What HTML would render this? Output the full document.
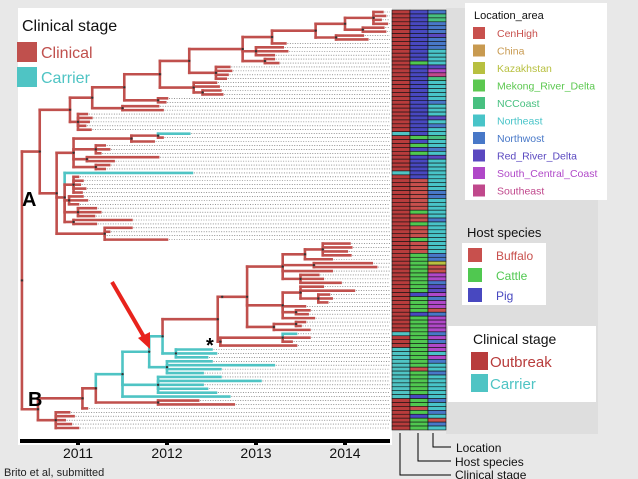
<!DOCTYPE html>
<html><head><meta charset="utf-8"><style>
body{margin:0;background:#e8e8e8;}
svg{display:block;font-family:"Liberation Sans",sans-serif;}
</style></head><body>
<svg id="c" width="638" height="479" viewBox="0 0 638 479">
<rect x="0" y="0" width="638" height="479" fill="#e8e8e8"/>
<rect x="18" y="8" width="374" height="437" fill="#fff"/>
<rect x="446" y="8" width="152" height="426" fill="#dedede"/>
<g id="tree"></g>
<g id="heat"></g>
<g id="axis"></g>
<text x="22" y="31" font-size="16" fill="#111">Clinical stage</text>
<rect x="17" y="42" width="20" height="20" fill="#c0504d"/>
<text x="41" y="58" font-size="16" fill="#c0504d">Clinical</text>
<rect x="17" y="67" width="20" height="20" fill="#4fc4c4"/>
<text x="41" y="83" font-size="16" fill="#4fc4c4">Carrier</text>
<text x="22" y="206" font-size="20" font-weight="bold" fill="#000">A</text>
<text x="28" y="406" font-size="20" font-weight="bold" fill="#000">B</text>
<text x="206" y="352" font-size="20" font-weight="bold" fill="#000">*</text>
<g>
<line x1="112" y1="282" x2="144" y2="337" stroke="#e8231c" stroke-width="4"/>
<polygon points="150,349 138,338 150,332" fill="#e8231c"/>
</g>
<rect x="465" y="3" width="142" height="197" fill="#fff"/>
<text x="474" y="19" font-size="11" fill="#111">Location_area</text>
<g id="locleg"></g>
<text x="467" y="237" font-size="13" fill="#111">Host species</text>
<rect x="462" y="243" width="84" height="62" fill="#fff"/>
<g id="hostleg"></g>
<rect x="448" y="326" width="148" height="76" fill="#fff"/>
<text x="473" y="344" font-size="14" fill="#111">Clinical stage</text>
<rect x="471" y="352" width="17" height="18" fill="#b83c3c"/>
<text x="490" y="367" font-size="15" fill="#b83c3c">Outbreak</text>
<rect x="471" y="374" width="17" height="18" fill="#4fc4c4"/>
<text x="490" y="389" font-size="15" fill="#4fc4c4">Carrier</text>
<g stroke="#000" stroke-width="1" fill="none">
<polyline points="433,433 433,447 451,447"/>
<polyline points="418,433 418,461 451,461"/>
<polyline points="400,433 400,475 451,475"/>
</g>
<text x="456" y="452" font-size="12" fill="#111">Location</text>
<text x="455" y="466" font-size="12" fill="#111">Host species</text>
<text x="455" y="479" font-size="12" fill="#111">Clinical stage</text>
<text x="4" y="476" font-size="11" fill="#222">Brito et al, submitted</text>
</svg>
<script>
const years = [2011, 2012, 2013, 2014];
const locNames = ["CenHigh","China","Kazakhstan","Mekong_River_Delta","NCCoast","Northeast","Northwost","Red_River_Delta","South_Central_Coast","Southeast"];
const locCodes = ["R","C","K","G","N","T","W","D","S","H"];
const locColors = ["#c8504d","#c89a50","#b8c040","#5cc850","#48c080","#48c4c8","#4878c8","#5a48c0","#b048c8","#c0488c"];
const hostNames = ["Buffalo","Cattle","Pig"];
const hostCodes = ["R","G","P"];
const hostColors = ["#c8504d","#50c850","#4848c0"];
const hostSeq = "PPPPPPPPPPPPPGPPPPPPPPPPPPPPPPPPGPGPGPPPPPPRRRRRRRRGRRGRRRGRRRGGGGGGGGGGPGGGGPGGGGGGGGGGGGGRGGGGGGPGGRGPGGG";
const locSeq  = "WNNWWWDWWWTTTTDSHNTTTTTWTTTDTWTTNTTWTDTTTTTTTTWWTTTTTWTTTTTTTTWWKRRSSWDDSWSSRWSSSSWSWSSTSWTTWTTTTTTWTTWTRWT";

function N(t, ...k){return {t, k, c:'r'};}
function NC(t, ...k){return {t, k, c:'c'};}
function L(t, c){return {t, c:c||'r'};}
function LC(t){return {t, c:'c'};}

const top8 = N(2014.0, N(2014.32, L(2014.42), L(2014.45), L(2014.4), L(2014.47)), N(2014.2, L(2014.43), L(2014.45)));
let s = N(2013.67, top8, N(2013.9, L(2014.2), L(2014.25)));
s = N(2013.18, s, L(2013.33));
s = N(2012.85, s, N(2013.0, L(2013.3), L(2013.35), L(2013.2)), N(2013.1, L(2013.2), L(2013.25)));
s = N(2012.25, s, N(2012.55, L(2012.7), L(2012.72), L(2012.68), L(2012.66)));
s = N(2011.92, s, N(2012.3, L(2012.55), L(2012.58), N(2012.4, L(2012.6), L(2012.62))));
s = N(2011.52, s, N(2011.9, L(2012.0), L(2011.98)));
s = N(2011.16, s, N(2011.5, L(2011.9), L(2011.95)));
const Atop = N(2010.91, s, N(2011.0, L(2011.1), L(2011.15), L(2011.12), L(2011.08), L(2011.14)));
const Alow = N(2010.76,
  N(2010.95, N(2011.6, N(2011.9, L(2012.25,'c'), L(2011.95)), L(2011.85)), N(2011.2, L(2011.3), L(2011.35), L(2011.25)), N(2011.1, L(2011.9), L(2011.4)), N(2011.2, L(2011.35), L(2011.3))),
  N(2010.85, L(2012.28,'c'), N(2010.95, L(2011.0), L(2011.05), L(2011.02), L(2011.08), L(2011.04)), N(2010.9, L(2011.05), L(2011.1), L(2011.0)), N(2011.0, L(2011.2), L(2011.25), L(2011.18)), N(2010.95, L(2011.6), L(2011.2))),
  N(2011.3, L(2011.6), L(2011.35), L(2011.3), L(2012.0)));
const A = N(2010.57, Atop, Alow);
const U = N(2012.9,
  N(2013.3, N(2013.55, N(2013.75, L(2014.05), L(2014.07), L(2014.02), L(2014.06)), L(2013.85)), N(2013.65, L(2014.3), L(2014.35)), L(2013.85), N(2013.5, L(2013.7), L(2013.75), L(2013.95))),
  N(2013.3, N(2013.5, L(2013.75), L(2014.1), N(2013.7, L(2013.82), L(2013.85), L(2013.8))), L(2013.55), N(2013.45, L(2013.6), L(2013.58)), L(2013.65)),
  N(2013.2, N(2013.45, L(2013.55), L(2013.5)), L(2013.6)));
const Star = N(2012.57, N(2012.62, U), N(2012.6, N(2013.3, L(2013.45,'c'), L(2013.6), L(2013.4)), L(2013.45)));
const T = NC(2011.5,
  NC(2011.8, NC(2011.95, Star, NC(2012.1, LC(2012.5), LC(2012.55), LC(2012.45))), NC(2012.0, LC(2012.5), LC(2013.2), LC(2012.6), LC(2012.4))),
  NC(2011.9, LC(2012.6), LC(2013.05), LC(2012.4), LC(2012.45), LC(2012.55)),
  LC(2012.7));
let b = N(2011.2, T, N(2011.9, L(2012.35), L(2012.75)));
b = N(2011.05, b, L(2011.1));
const B = N(2010.55, b, N(2010.75, L(2010.9), L(2010.95), L(2010.85), L(2010.92), L(2011.0)));
const tree = N(2010.37, A, B);

const X = yr => 78 + (yr - 2011) * 89;
const NS = 'http://www.w3.org/2000/svg';
const COL = {r:'#c0504d', c:'#4fc4c4'};
function mk(tag, attrs, parent){const e=document.createElementNS(NS,tag);for(const a in attrs)e.setAttribute(a,attrs[a]);parent.appendChild(e);return e;}

const leaves=[];
(function collect(n){ if(n.k) n.k.forEach(collect); else leaves.push(n); })(tree);
const nRows = leaves.length;
const Y = i => 12 + i * (428 - 12) / (nRows - 1);
let row=0;
(function lay(n){ if(!n.k){n.y=Y(row++);return;} n.k.forEach(lay); n.y=(n.k[0].y+n.k[n.k.length-1].y)/2; })(tree);

const tg=document.getElementById('tree');
leaves.forEach(l=>{
  const d=mk('line',{x1:X(l.t)+2,y1:l.y,x2:390,y2:l.y,stroke:'#555','stroke-width':0.6,'stroke-dasharray':'1,1.5'},tg);
  
  
});
(function draw(n, pt){
  const col=COL[n.c];
  if(pt!==undefined){
    const h=mk('line',{x1:X(pt),y1:n.y,x2:X(n.t),y2:n.y,stroke:col,'stroke-width':2.6,'stroke-linecap':'square'},tg);
    
    
  }
  if(n.k){
    n.k.forEach(c=>{
      const v=mk('line',{x1:X(n.t),y1:n.y,x2:X(n.t),y2:c.y,stroke:COL[c.c],'stroke-width':2.6,'stroke-linecap':'square'},tg);
      
      
    });
    n.k.forEach(c=>draw(c,n.t));
    const dot=mk('circle',{cx:X(n.t),cy:n.y,r:1.2,fill:'#333'},tg);
    
    
  }
})(tree);

const hg=document.getElementById('heat');
const rh=(428-12)/(nRows-1);
leaves.forEach((l,i)=>{
  const y0=l.y-rh/2;
  const cells=[l.c==='c' ? '#4fc4c4' : '#b83c3c',
    hostColors[Math.max(0,hostCodes.indexOf(hostSeq[i]||'G'))],
    locColors[Math.max(0,locCodes.indexOf(locSeq[i]||'T'))]];
  cells.forEach((c,j)=>{
    const r=mk('rect',{x:392+j*18,y:y0,width:18,height:rh,fill:c,stroke:'#111','stroke-width':0.6},hg);
    
    
  });
});

const ag=document.getElementById('axis');
const ax=mk('line',{x1:20,y1:441,x2:390,y2:441,stroke:'#000','stroke-width':4},ag);


years.forEach(yr=>{
  const t=mk('line',{x1:X(yr),y1:441,x2:X(yr),y2:445,stroke:'#000','stroke-width':4},ag);
  
  
  const tx=mk('text',{x:X(yr),y:458,'font-size':14,'text-anchor':'middle',fill:'#111'},ag);
  tx.textContent=yr;
  
  
});

const lg=document.getElementById('locleg');
locNames.forEach((nm,i)=>{
  const y=27+i*17.5;
  const r=mk('rect',{x:473,y:y,width:12,height:12,fill:locColors[i]},lg);
  
  
  const t=mk('text',{x:497,y:y+10,'font-size':10.5,fill:locColors[i]},lg);
  t.textContent=nm;
  
  
});
const hl=document.getElementById('hostleg');
hostNames.forEach((nm,i)=>{
  const y=248+i*20;
  const r=mk('rect',{x:468,y:y,width:14,height:14,fill:hostColors[i]},hl);
  
  
  const t=mk('text',{x:496,y:y+12,'font-size':12,fill:hostColors[i]},hl);
  t.textContent=nm;
  
  
});
</script>
</body></html>
